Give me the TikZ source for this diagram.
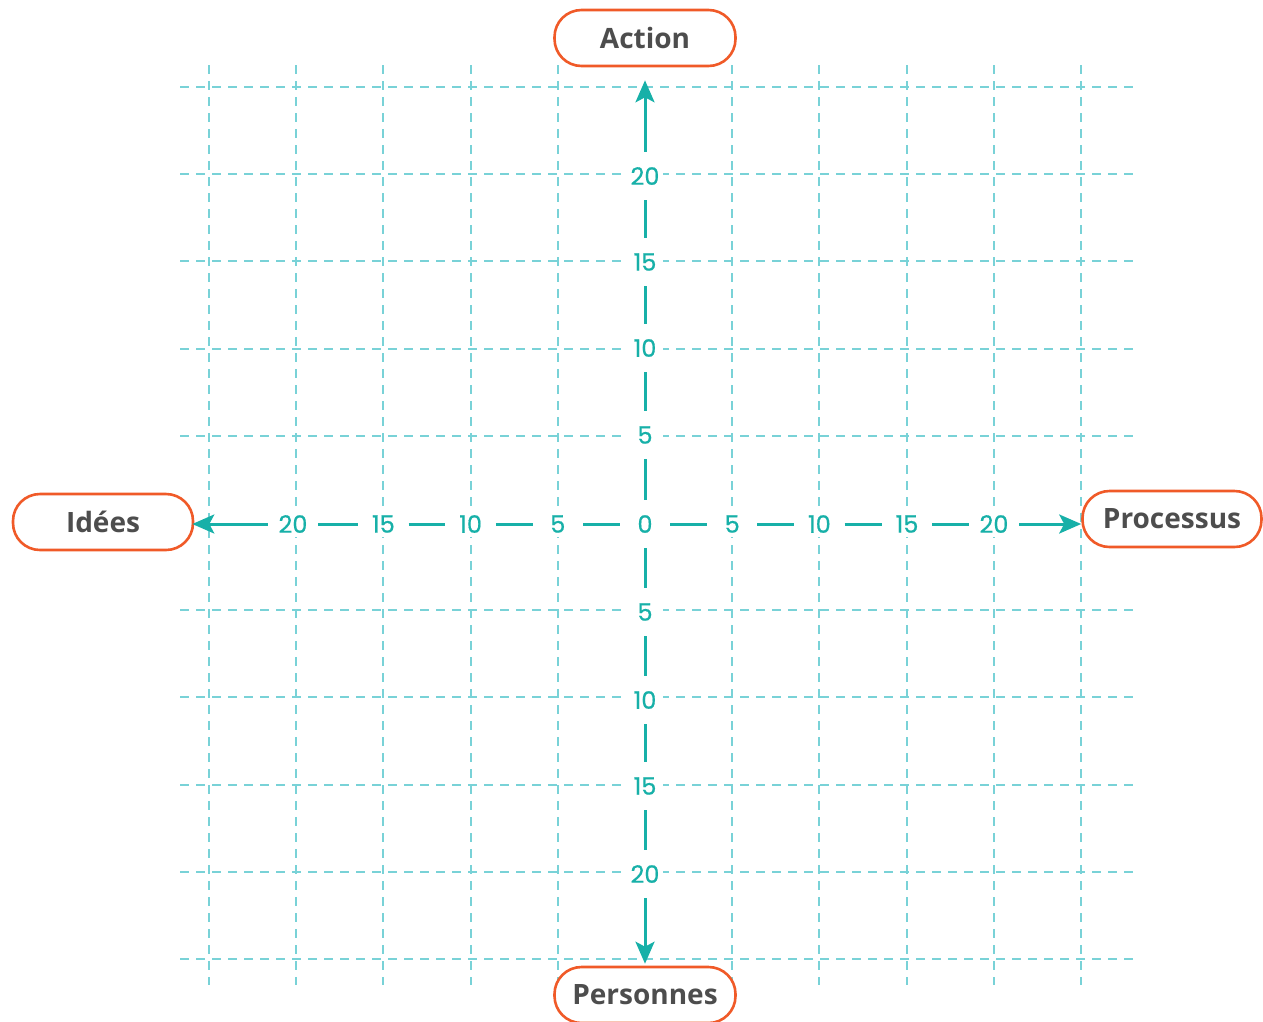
\documentclass[tikz,border=0pt]{standalone}
\usepackage{fontspec}
\setmainfont{Open Sans}
\newfontfamily\numfont[FakeBold=0.6]{Poppins}
\usetikzlibrary{arrows.meta}
\definecolor{orng}{HTML}{F05A28}
\definecolor{txtgray}{HTML}{4D4D4D}
\definecolor{axisteal}{HTML}{17B0A8}
\definecolor{gridteal}{HTML}{79D2D7}
\begin{document}
\begin{tikzpicture}[x=1pt,y=-1pt,
  gridline/.style={gridteal,line width=2pt,dash pattern=on 9pt off 7pt},
  axisline/.style={axisteal,line width=3pt},
  hseg/.style={axisline,shorten <=7pt,shorten >=7pt},
  vseg/.style={axisline,shorten <=11pt,shorten >=11pt},
  tip/.style={-{Stealth[length=22pt,width=19pt,inset=5pt]}},
  num/.style={fill=white,inner sep=2pt,minimum width=36pt,minimum height=26pt,text=axisteal,font=\numfont\fontsize{24}{26}\selectfont},
  pill/.style={draw=orng,line width=2.6pt,fill=white,rounded corners=27pt,minimum height=56pt,text=txtgray,font=\bfseries\fontsize{28}{30}\selectfont}]
\useasboundingbox (0,0) rectangle (1263,1021);
% grid
\foreach \k in {0,1,2,3,4,6,7,8,9,10}{
  \draw[gridline] (180,87+\k*87.2) -- (1135,87+\k*87.2);
  \draw[gridline] (209+\k*87.2,65) -- (209+\k*87.2,985);
}
% boxes
\node[pill,minimum width=181pt] (action) at (645,38) {Action};
\node[pill,minimum width=180pt] (idees) at (103,522) {Idées};
\node[pill,minimum width=179pt] (proc) at (1172,519) {Processus};
\node[pill,minimum width=181pt] (pers) at (645,995) {Personnes};
% horizontal labels
\node[num] (h20l) at (293,524) {20};
\node[num] (h15l) at (383.4,524) {15};
\node[num] (h10l) at (470.6,524) {10};
\node[num] (h5l) at (557.8,524) {5};
\node[num] (o) at (645,524) {0};
\node[num] (h5r) at (732.2,524) {5};
\node[num] (h10r) at (819.4,524) {10};
\node[num] (h15r) at (907,524) {15};
\node[num] (h20r) at (994,524) {20};
% vertical labels
\node[num] (v20t) at (645,176) {20};
\node[num] (v15t) at (645,262) {15};
\node[num] (v10t) at (645,348) {10};
\node[num] (v5t) at (645,435) {5};
\node[num] (v5b) at (645,612) {5};
\node[num] (v10b) at (645,700) {10};
\node[num] (v15b) at (645,786) {15};
\node[num] (v20b) at (645,874) {20};
% axis segments
\draw[hseg] (h20l) -- (h15l);
\draw[hseg] (h15l) -- (h10l);
\draw[hseg] (h10l) -- (h5l);
\draw[hseg] (h5l) -- (o);
\draw[hseg] (o) -- (h5r);
\draw[hseg] (h5r) -- (h10r);
\draw[hseg] (h10r) -- (h15r);
\draw[hseg] (h15r) -- (h20r);
\draw[vseg] (v20t) -- (v15t);
\draw[vseg] (v15t) -- (v10t);
\draw[vseg] (v10t) -- (v5t);
\draw[vseg] (v5t) -- (o);
\draw[vseg] (o) -- (v5b);
\draw[vseg] (v5b) -- (v10b);
\draw[vseg] (v10b) -- (v15b);
\draw[vseg] (v15b) -- (v20b);
% arrows
\draw[axisline,tip,shorten <=7pt,shorten >=-2pt] (h20l.west) -- (h20l -| idees.east);
\draw[axisline,tip,shorten <=7pt,shorten >=0pt] (h20r.east) -- (h20r -| proc.west);
\draw[axisline,tip,shorten <=11pt,shorten >=13pt] (v20t) -- (action);
\draw[axisline,tip,shorten <=11pt,shorten >=2pt] (v20b) -- (pers);
\end{tikzpicture}
\end{document}
